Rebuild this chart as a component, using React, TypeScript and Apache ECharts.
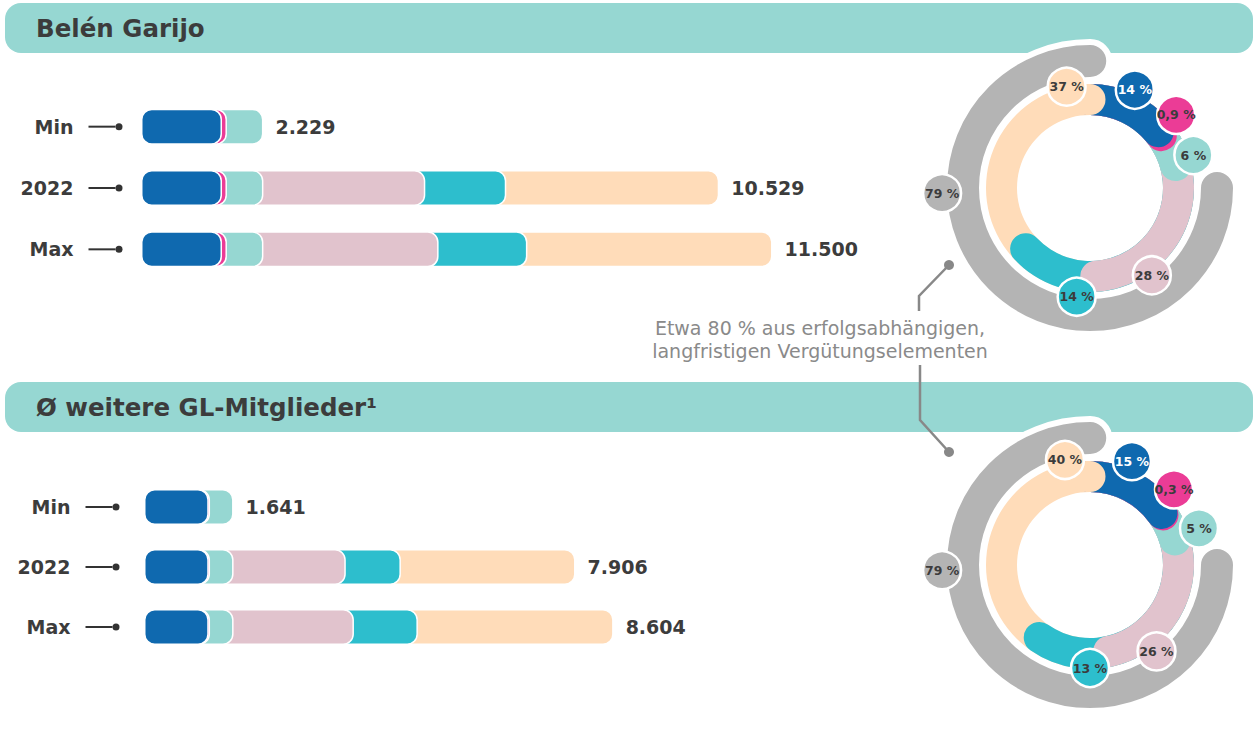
import React, { useEffect, useRef } from 'react';
import * as echarts from 'echarts';

// ---------- DATA ----------
const rowLabels = ['Min', '2022', 'Max'];

// Belén Garijo (in T€), components in drawing order
const garijoFixed = [1475, 1475, 1475];
const garijoFringe = [90, 90, 90];
const garijoPension = [664, 664, 664];
const garijoShortTerm = [0, 2948, 3190];
const garijoMidTerm = [0, 1474, 1617];
const garijoLongTerm = [0, 3878, 4464];
const garijoTotals = [2229, 10529, 11500];

// Ø weitere GL-Mitglieder (in T€)
const membersFixed = [1186, 1186, 1186];
const membersFringe = [24, 24, 24];
const membersPension = [431, 431, 431];
const membersShortTerm = [0, 2056, 2205];
const membersMidTerm = [0, 1010, 1172];
const membersLongTerm = [0, 3199, 3586];
const membersTotals = [1641, 7906, 8604];

// Shares of 2022 compensation (%), same order as components
const garijoShares = [14, 0.9, 6, 28, 14, 37];
const membersShares = [15, 0.3, 5, 26, 13, 40];
const garijoVariableShare = 79;
const membersVariableShare = 79;

// ---------- LAYOUT / STYLE ----------
const FONT = '"DejaVu Sans", Verdana, sans-serif';
const TEXT = '#3c3c3c';
const colors = ['#0F69AF', '#EB3C96', '#96D7D2', '#E1C3CD', '#2DBECD', '#FFDCB9'];
const labelTextColors = ['#ffffff', TEXT, TEXT, TEXT, TEXT, TEXT];
const GRAY = '#B4B4B4';
const HEADER = '#96D7D2';

// label bubble placement around each donut: [radius px, angle deg clockwise from top]
const garijoLabelPos = [[108, 24.5], [113, 49.7], [108.5, 72.3], [107, 144.7], [109.5, 187], [104, 347]];
const membersLabelPos = [[112, 22], [113, 48], [115, 71.4], [109, 142.4], [103, 180], [108, 346.6]];
const grayLabelPos = [148, 268];
const grayArcScale = 105.3; // angle axis max of the grey arc
const closingCapSpan = 0.6; // tail of the last ring segment redrawn over the first one

const fmtNum = (n: number) => String(n).replace(/\B(?=(\d{3})+(?!\d))/g, '.');
const fmtPct = (n: number) => String(n).replace('.', ',') + ' %';

function cumulative(comps: number[][]) {
  return comps.map((_, i) =>
    rowLabels.map((__, r) => comps.slice(0, i + 1).reduce((s, c) => s + c[r], 0))
  );
}

function barSeries(idx: number, comps: number[][], totals: number[]) {
  const cum = cumulative(comps);
  const out: any[] = [];
  for (let i = comps.length - 1; i >= 0; i--) {
    out.push({
      type: 'bar',
      xAxisIndex: idx,
      yAxisIndex: idx,
      data: cum[i],
      barWidth: 36,
      barGap: '-100%',
      z: 3,
      itemStyle: { color: colors[i], borderRadius: 10, borderColor: '#fff', borderWidth: 1.5 },
      label:
        i === comps.length - 1
          ? {
              show: true,
              position: 'right',
              distance: 12,
              formatter: (p: any) => fmtNum(totals[p.dataIndex]),
              fontFamily: FONT,
              fontSize: 19,
              fontWeight: 'bold',
              color: TEXT,
            }
          : { show: false },
    });
  }
  return out;
}

function ringSeries(polarIdx: number, shares: number[]) {
  const out: any[] = [];
  const cum = shares.map((_, i) => shares.slice(0, i + 1).reduce((s, v) => s + v, 0));
  const total = cum[cum.length - 1];
  for (let i = shares.length - 1; i >= 0; i--) {
    out.push({
      type: 'bar',
      coordinateSystem: 'polar',
      polarIndex: polarIdx,
      data: [cum[i]],
      roundCap: true,
      barGap: '-100%',
      barCategoryGap: '0%',
      z: 4,
      itemStyle: { color: colors[i] },
    });
  }
  // rounded end of the last segment, lying over the start of the first one
  const stackId = 'closing' + polarIdx;
  out.push({
    type: 'bar',
    coordinateSystem: 'polar',
    polarIndex: polarIdx,
    stack: stackId,
    data: [total - closingCapSpan],
    barGap: '-100%',
    barCategoryGap: '0%',
    silent: true,
    z: 4,
    itemStyle: { color: 'rgba(0,0,0,0)' },
  });
  out.push({
    type: 'bar',
    coordinateSystem: 'polar',
    polarIndex: polarIdx,
    stack: stackId,
    data: [closingCapSpan],
    roundCap: true,
    barGap: '-100%',
    barCategoryGap: '0%',
    z: 4,
    itemStyle: { color: colors[colors.length - 1] },
  });
  return out;
}

function grayArcSeries(polarIdx: number, share: number) {
  return {
    type: 'bar',
    coordinateSystem: 'polar',
    polarIndex: polarIdx,
    data: [share],
    roundCap: true,
    barCategoryGap: '0%',
    z: 4,
    itemStyle: { color: GRAY, borderColor: '#fff', borderWidth: 6 },
  };
}

function bubbleSeries(polarIdx: number, shares: number[], pos: number[][], variable: number) {
  const data: any[] = shares.map((s, i) => ({
    value: pos[i],
    itemStyle: { color: colors[i] },
    label: { formatter: fmtPct(s), color: labelTextColors[i] },
  }));
  data.push({
    value: grayLabelPos,
    itemStyle: { color: GRAY },
    label: { formatter: fmtPct(variable), color: TEXT },
  });
  return {
    type: 'scatter',
    coordinateSystem: 'polar',
    polarIndex: polarIdx,
    symbol: 'circle',
    symbolSize: 38,
    z: 10,
    itemStyle: { borderColor: '#fff', borderWidth: 2.5, opacity: 1 },
    label: {
      show: true,
      position: 'inside',
      fontFamily: FONT,
      fontSize: 12.5,
      fontWeight: 'bold',
    },
    data,
  };
}

const hidden = { show: false };

function yAxisFor(idx: number, margin: number) {
  return {
    type: 'category',
    gridIndex: idx,
    data: rowLabels,
    inverse: true,
    axisLine: hidden,
    axisTick: hidden,
    splitLine: hidden,
    axisLabel: {
      margin,
      formatter: (v: string) => `{t|${v}}{g|}{l|}{d|}`,
      rich: {
        t: { fontFamily: FONT, fontSize: 19, fontWeight: 'bold', color: TEXT },
        g: { width: 15 },
        l: { width: 27, height: 2, backgroundColor: '#333' },
        d: { width: 7, height: 7, borderRadius: 3.5, backgroundColor: '#333' },
      },
    },
  };
}

function polarSet(cy: number) {
  return [
    { center: [1090, cy], radius: [73, 104] },
    { center: [1090, cy], radius: [108, 146] },
    { center: [1090, cy], radius: [0, 150] },
  ];
}

function angleAxes(base: number, ringMax: number) {
  return [
    { polarIndex: base, type: 'value', min: 0, max: ringMax, startAngle: 90, clockwise: true, show: false },
    { polarIndex: base + 1, type: 'value', min: 0, max: grayArcScale, startAngle: 0, clockwise: true, show: false },
    { polarIndex: base + 2, type: 'value', min: 0, max: 360, startAngle: 90, clockwise: true, show: false },
  ];
}

function radiusAxes(base: number) {
  return [
    { polarIndex: base, type: 'category', data: ['a'], show: false },
    { polarIndex: base + 1, type: 'category', data: ['a'], show: false },
    { polarIndex: base + 2, type: 'value', min: 0, max: 150, show: false },
  ];
}

function header(y: number, title: string) {
  return [
    { type: 'rect', z: 0, shape: { x: 5, y, width: 1248, height: 50, r: 16 }, style: { fill: HEADER } },
    {
      type: 'text',
      z: 1,
      x: 36,
      y: y + 25,
      style: { text: title, fill: TEXT, font: `bold 24.5px ${FONT}`, verticalAlign: 'middle', align: 'left' },
    },
  ];
}

export default function App() {
  const ref = useRef<HTMLDivElement>(null);
  useEffect(() => {
    if (!ref.current) return;
    const chart = echarts.init(ref.current, undefined, { renderer: 'svg' });
    const sum = (a: number[]) => a.reduce((s, v) => s + v, 0);
    const option: any = {
      animation: false,
      backgroundColor: '#ffffff',
      grid: [
        { left: 141, top: 96, width: 659, height: 184 },
        { left: 144, top: 477, width: 655, height: 180 },
      ],
      xAxis: [
        { type: 'value', gridIndex: 0, min: 0, max: 12000, show: false },
        { type: 'value', gridIndex: 1, min: 0, max: 12000, show: false },
      ],
      yAxis: [yAxisFor(0, 18.5), yAxisFor(1, 24.5)],
      polar: [...polarSet(188), ...polarSet(565)],
      angleAxis: [...angleAxes(0, sum(garijoShares)), ...angleAxes(3, sum(membersShares))],
      radiusAxis: [...radiusAxes(0), ...radiusAxes(3)],
      graphic: [
        ...header(3, 'Belén Garijo'),
        ...header(382, 'Ø weitere GL-Mitglieder¹'),
        {
          type: 'text',
          z: 5,
          x: 820,
          y: 339,
          style: {
            text: 'Etwa 80 % aus erfolgsabhängigen,\nlangfristigen Vergütungselementen',
            fill: '#8a8a8a',
            font: `19px ${FONT}`,
            align: 'center',
            verticalAlign: 'middle',
            lineHeight: 23,
          },
        },
        {
          type: 'polyline',
          z: 5,
          shape: { points: [[919, 311], [919, 296], [949, 265]] },
          style: { stroke: '#888', lineWidth: 2.5, fill: null },
        },
        { type: 'circle', z: 5, shape: { cx: 949, cy: 265, r: 5 }, style: { fill: '#888' } },
        {
          type: 'polyline',
          z: 5,
          shape: { points: [[920, 365], [920, 420], [949, 452]] },
          style: { stroke: '#888', lineWidth: 2.5, fill: null },
        },
        { type: 'circle', z: 5, shape: { cx: 949, cy: 452, r: 5 }, style: { fill: '#888' } },
      ],
      series: [
        ...barSeries(
          0,
          [garijoFixed, garijoFringe, garijoPension, garijoShortTerm, garijoMidTerm, garijoLongTerm],
          garijoTotals
        ),
        ...barSeries(
          1,
          [membersFixed, membersFringe, membersPension, membersShortTerm, membersMidTerm, membersLongTerm],
          membersTotals
        ),
        grayArcSeries(1, garijoVariableShare),
        ...ringSeries(0, garijoShares),
        bubbleSeries(2, garijoShares, garijoLabelPos, garijoVariableShare),
        grayArcSeries(4, membersVariableShare),
        ...ringSeries(3, membersShares),
        bubbleSeries(5, membersShares, membersLabelPos, membersVariableShare),
      ],
    };
    chart.setOption(option);
    return () => chart.dispose();
  }, []);
  return (
    <div
      ref={ref}
      style={{ position: 'absolute', left: 0, top: 0, width: 1257, height: 734, background: '#fff' }}
    />
  );
}
